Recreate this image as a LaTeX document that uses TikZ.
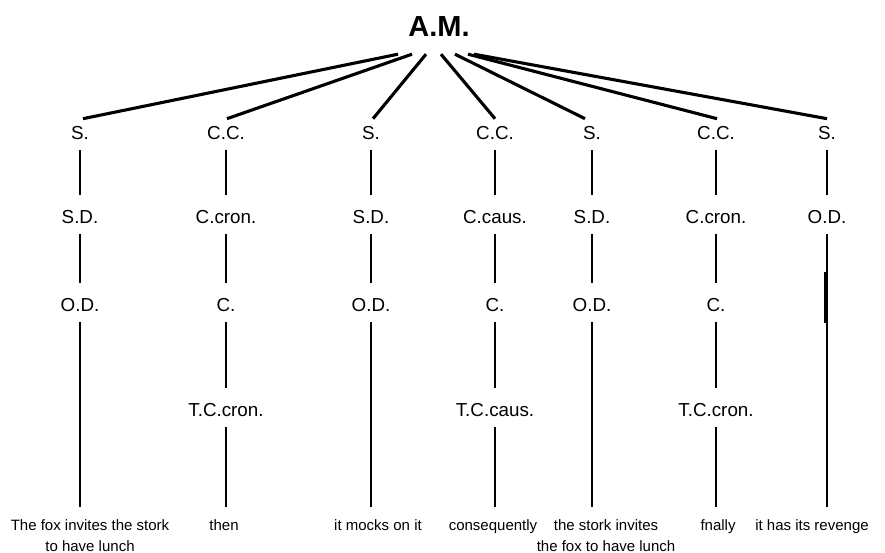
\documentclass[tikz,border=0pt]{standalone}
\usepackage{fontspec}
\setmainfont{Liberation Sans}
\begin{document}
\begin{tikzpicture}[x=1pt,y=1pt,
  lab/.style={font=\fontsize{18.8}{22}\selectfont, text height=13.4pt, text depth=0pt, inner sep=0pt},
  top/.style={font=\bfseries\fontsize{29}{34}\selectfont, text height=20.8pt, text depth=0pt, inner sep=0pt},
  leaf/.style={font=\fontsize{15}{21}\selectfont, align=center, anchor=north, inner sep=0pt},
  vl/.style={line width=2.8pt, shorten <=10pt, shorten >=15.5pt},
  vb/.style={line width=2.8pt, shorten <=10pt, shorten >=12pt},
  tl/.style={line width=3.1pt},
  thickseg/.style={line width=3.6pt}]
\useasboundingbox (0,0) rectangle (885,-553);
\fill[white] (0,0) rectangle (885,-553);

\node[top] (am) at (439,-26) {A.M.};

% column 1
\node[lab] (a1) at (80,-133) {S.};
\node[lab] (a2) at (80,-217) {S.D.};
\node[lab] (a3) at (80,-305) {O.D.};
\node[leaf] (a4) at (90,-519) {The fox invites the stork\\to have lunch};
% column 2
\node[lab] (b1) at (226,-133) {C.C.};
\node[lab] (b2) at (226,-217) {C.cron.};
\node[lab] (b3) at (226,-305) {C.};
\node[lab] (b4) at (226,-410) {T.C.cron.};
\node[leaf] (b5) at (224,-519) {then};
% column 3
\node[lab] (c1) at (371,-133) {S.};
\node[lab] (c2) at (371,-217) {S.D.};
\node[lab] (c3) at (371,-305) {O.D.};
\node[leaf] (c4) at (378,-519) {it mocks on it};
% column 4
\node[lab] (d1) at (495,-133) {C.C.};
\node[lab] (d2) at (495,-217) {C.caus.};
\node[lab] (d3) at (495,-305) {C.};
\node[lab] (d4) at (495,-410) {T.C.caus.};
\node[leaf] (d5) at (493,-519) {consequently};
% column 5
\node[lab] (e1) at (592,-133) {S.};
\node[lab] (e2) at (592,-217) {S.D.};
\node[lab] (e3) at (592,-305) {O.D.};
\node[leaf] (e4) at (606,-519) {the stork invites\\the fox to have lunch};
% column 6
\node[lab] (f1) at (716,-133) {C.C.};
\node[lab] (f2) at (716,-217) {C.cron.};
\node[lab] (f3) at (716,-305) {C.};
\node[lab] (f4) at (716,-410) {T.C.cron.};
\node[leaf] (f5) at (718,-519) {fnally};
% column 7
\node[lab] (g1) at (827,-133) {S.};
\node[lab] (g2) at (827,-217) {O.D.};
\node[leaf] (g3) at (812,-519) {it has its revenge};

% top connectors
\draw[tl] ([xshift=-41pt,yshift=-17.6pt]am.south) -- ([xshift=3pt,yshift=7.4pt]a1.north);
\draw[tl] ([xshift=-27pt,yshift=-17.6pt]am.south) -- ([xshift=1pt,yshift=7.4pt]b1.north);
\draw[tl] ([xshift=-13pt,yshift=-17.6pt]am.south) -- ([xshift=2pt,yshift=7.4pt]c1.north);
\draw[tl] ([xshift=2pt,yshift=-17.6pt]am.south) -- ([xshift=0pt,yshift=7.4pt]d1.north);
\draw[tl] ([xshift=16pt,yshift=-17.6pt]am.south) -- ([xshift=-7pt,yshift=7.4pt]e1.north);
\draw[tl] ([xshift=29pt,yshift=-17.6pt]am.south) -- ([xshift=1pt,yshift=7.4pt]f1.north);
\draw[tl] ([xshift=35pt,yshift=-17.6pt]am.south) -- ([xshift=0pt,yshift=7.4pt]g1.north);

% vertical connectors
\draw[vl] (a1.south) -- (a2.north);
\draw[vl] (a2.south) -- (a3.north);
\draw[vb] (a3.south) -- (a3.south |- a4.north);

\draw[vl] (b1.south) -- (b2.north);
\draw[vl] (b2.south) -- (b3.north);
\draw[vl] (b3.south) -- (b4.north);
\draw[vb] (b4.south) -- (b4.south |- b5.north);

\draw[vl] (c1.south) -- (c2.north);
\draw[vl] (c2.south) -- (c3.north);
\draw[vb] (c3.south) -- (c3.south |- c4.north);

\draw[vl] (d1.south) -- (d2.north);
\draw[vl] (d2.south) -- (d3.north);
\draw[vl] (d3.south) -- (d4.north);
\draw[vb] (d4.south) -- (d4.south |- d5.north);

\draw[vl] (e1.south) -- (e2.north);
\draw[vl] (e2.south) -- (e3.north);
\draw[vb] (e3.south) -- (e3.south |- e4.north);

\draw[vl] (f1.south) -- (f2.north);
\draw[vl] (f2.south) -- (f3.north);
\draw[vl] (f3.south) -- (f4.north);
\draw[vb] (f4.south) -- (f4.south |- f5.north);

\draw[vl] (g1.south) -- (g2.north);
\draw[vb] (g2.south) -- (g2.south |- g3.north);
\draw[thickseg] ([xshift=-1pt,yshift=-55pt]g2.center) -- ([xshift=-1pt,yshift=-106pt]g2.center);
\end{tikzpicture}
\end{document}
